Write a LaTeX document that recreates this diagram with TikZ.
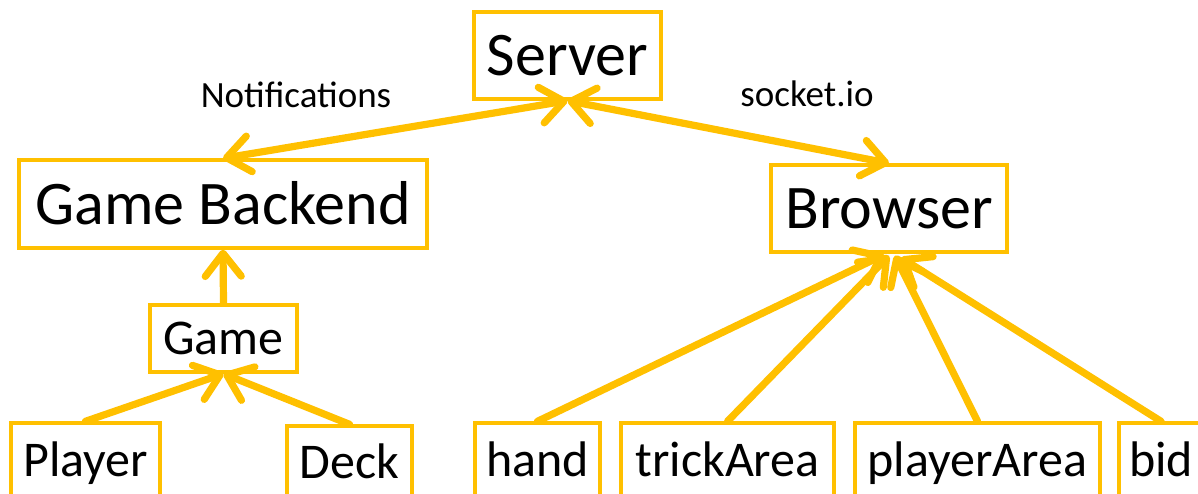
\documentclass[tikz,border=0pt]{standalone}
\usepackage{fontspec}
\setmainfont{Carlito}
\usetikzlibrary{arrows.meta,calc}
\definecolor{amber}{HTML}{FFC000}
\begin{document}
\begin{tikzpicture}[x=1pt,y=-1pt,
  box/.style={draw=amber, line width=3.4pt, rectangle, inner sep=0pt, text depth=0pt},
  big/.style={box, font=\fontsize{62}{70}\selectfont, text height=40pt},
  small/.style={box, font=\fontsize{50}{56}\selectfont, text height=32pt},
  lbl/.style={font=\fontsize{37}{42}\selectfont, text height=24pt, text depth=0pt, inner sep=0pt},
  tip/.tip={Straight Barb[length=23pt,width=36pt,round]},
  link/.style={draw=amber, line width=7.2pt, line cap=round, -tip},
  both/.style={draw=amber, line width=7.2pt, line cap=round, tip-tip}
]
\useasboundingbox (0,0) rectangle (1198,493);
\clip (0,0) rectangle (1198,493);
\fill[white] (0,0) rectangle (1198,493);

% top level
\node[big, minimum width=187pt, minimum height=87pt] (server) at (567.5,55.5) {Server};
\node[big, minimum width=408pt, minimum height=88pt] (gb) at (223,204) {Game Backend};
\node[big, minimum width=236pt, minimum height=87pt] (browser) at (889,208.5) {Browser};
\node[small, minimum width=147pt, minimum height=67pt] (game) at (223.5,338.5) {Game};

% leaf boxes along the bottom edge
\node[small, minimum width=149pt, minimum height=74pt] (player) at (85.5,460) {Player};
\node[small, minimum width=125pt, minimum height=73pt] (deck) at (349.5,462.5) {Deck};
\node[small, minimum width=125pt, minimum height=74pt] (hand) at (537.5,460) {hand};
\node[small, minimum width=213pt, minimum height=74pt] (trick) at (727.5,460) {trickArea};
\node[small, minimum width=245pt, minimum height=74pt] (parea) at (977.5,460) {playerArea};
\node[small, minimum width=84pt, minimum height=74pt] (bid) at (1161,460) {bid};

% connector labels
\node[lbl] (notif) at (296,95) {Notifications};
\node[lbl] (sock) at (807,94) {socket.io};

% connectors
\draw[both] (server.south) -- (gb.north);
\draw[both] (server.south) -- (browser.north);
\draw[link] (game.north) -- (gb.south);
\draw[link] (player.north) -- (game.south);
\draw[link] (deck.north) -- (game.south);
\draw[link] (hand.north) -- ($(browser.south)+(-5,1)$);
\draw[link] (trick.north) -- ($(browser.south)+(0,2)$);
\draw[link] (parea.north) -- ($(browser.south)+(6,2)$);
\draw[link] (bid.north) -- ($(browser.south)+(12,4)$);
\end{tikzpicture}
\end{document}
